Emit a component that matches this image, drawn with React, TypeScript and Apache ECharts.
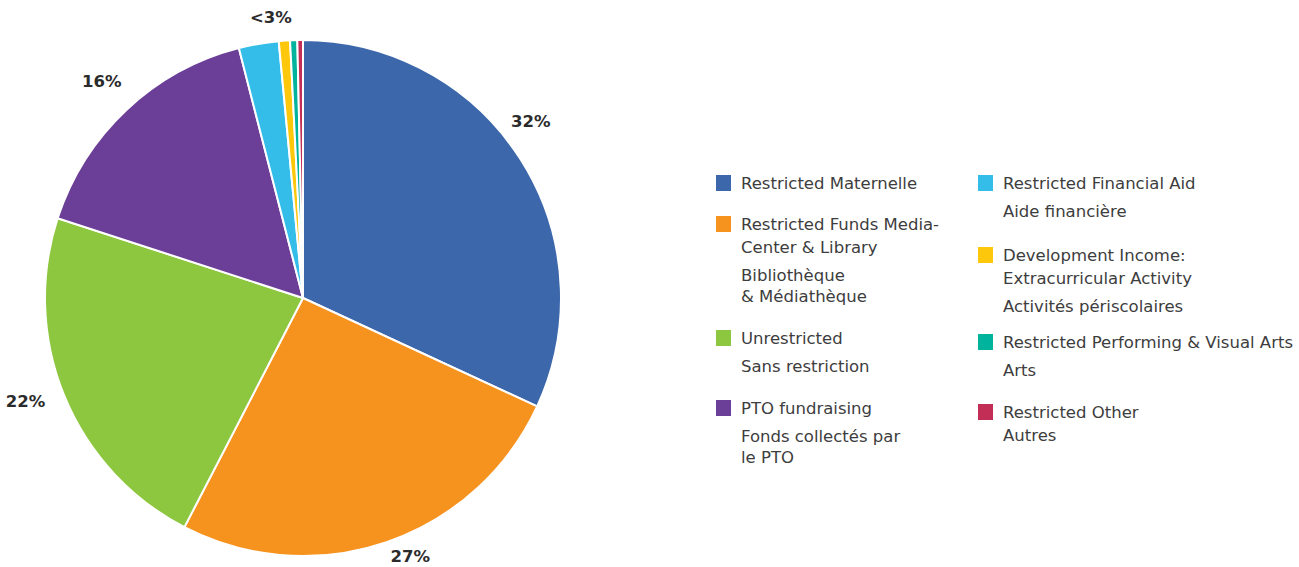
import React, { useEffect, useRef } from "react";
import * as echarts from "echarts";

// ---- data ----
const categories = [
  "Restricted Maternelle",
  "Restricted Funds Media-Center & Library",
  "Unrestricted",
  "PTO fundraising",
  "Restricted Financial Aid",
  "Development Income: Extracurricular Activity",
  "Restricted Performing & Visual Arts",
  "Restricted Other",
];
const englishLines = [
  ["Restricted Maternelle"],
  ["Restricted Funds Media-", "Center & Library"],
  ["Unrestricted"],
  ["PTO fundraising"],
  ["Restricted Financial Aid"],
  ["Development Income:", "Extracurricular Activity"],
  ["Restricted Performing & Visual Arts"],
  ["Restricted Other", "Autres"],
];
const frenchLines = [
  [],
  ["Bibliothèque", "& Médiathèque"],
  ["Sans restriction"],
  ["Fonds collectés par", "le PTO"],
  ["Aide financière"],
  ["Activités périscolaires"],
  ["Arts"],
  [],
];
const shares = [31.9, 25.7, 22.4, 16.0, 2.5, 0.7, 0.45, 0.35];
const sliceLabels = ["32%", "27%", "22%", "16%", "<3%"];
const labeledCount = 4; // slices labelled individually; the rest are grouped

// ---- styles / layout ----
const colors = [
  "#3c67ab",
  "#f6921e",
  "#8dc63f",
  "#6b3f98",
  "#35bde9",
  "#fdc70c",
  "#00b39d",
  "#c22e55",
];
const CENTER: [number, number] = [303, 298];
const RADIUS = 258;
const LABEL_OFFSETS = [
  [-15, -21],
  [14, -14],
  [-11, -6],
  [-4, -7],
  [4, 5],
];
const LEGEND_COL_X = [716, 978];
const LEGEND_ROW_Y = [
  [183, 224, 338, 408],
  [183, 255, 342, 412],
];
const TEXT_DX = 25;
const EN_LH = 23;
const FR_GAP = 28;
const FR_LH = 21;
const LEGEND_FONT = '16.5px "DejaVu Sans"';
const TEXT_COLOR = "#3d3d3d";

function buildLegend() {
  const els: any[] = [];
  categories.forEach((_, i) => {
    const col = i < 4 ? 0 : 1;
    const row = i % 4;
    const x = LEGEND_COL_X[col];
    const y = LEGEND_ROW_Y[col][row];
    els.push({
      type: "rect",
      shape: { x, y: y - 8, width: 15, height: 16 },
      style: { fill: colors[i] },
      silent: true,
    });
    els.push({
      type: "text",
      x: x + TEXT_DX,
      y: y - EN_LH / 2,
      style: {
        text: englishLines[i].join("\n"),
        font: LEGEND_FONT,
        fill: TEXT_COLOR,
        lineHeight: EN_LH,
        verticalAlign: "top",
        align: "left",
      },
      silent: true,
    });
    if (frenchLines[i].length) {
      const lastEn = y + (englishLines[i].length - 1) * EN_LH;
      els.push({
        type: "text",
        x: x + TEXT_DX,
        y: lastEn + FR_GAP - FR_LH / 2,
        style: {
          text: frenchLines[i].join("\n"),
          font: LEGEND_FONT,
          fill: TEXT_COLOR,
          lineHeight: FR_LH,
          verticalAlign: "top",
          align: "left",
        },
        silent: true,
      });
    }
  });
  return els;
}

export default function App() {
  const ref = useRef<HTMLDivElement>(null);
  useEffect(() => {
    if (!ref.current) return;
    const chart = echarts.init(ref.current, null, { renderer: "svg" });

    const mainData = categories.map((name, i) => ({
      name,
      value: shares[i],
      itemStyle: { color: colors[i] },
    }));
    const rest = shares.slice(labeledCount).reduce((a, b) => a + b, 0);
    const labelData = [
      ...shares.slice(0, labeledCount).map((v, i) => ({ name: sliceLabels[i], value: v })),
      { name: sliceLabels[labeledCount], value: rest },
    ];

    chart.setOption({
      animation: false,
      graphic: buildLegend(),
      series: [
        {
          type: "pie",
          center: CENTER,
          radius: RADIUS,
          startAngle: 90,
          clockwise: true,
          silent: true,
          data: mainData,
          label: { show: false },
          labelLine: { show: false },
          itemStyle: { borderColor: "#ffffff", borderWidth: 2 },
        },
        {
          type: "pie",
          center: CENTER,
          radius: [RADIUS + 12, RADIUS + 42],
          startAngle: 90,
          clockwise: true,
          silent: true,
          data: labelData,
          itemStyle: { color: "rgba(0,0,0,0)" },
          label: {
            show: true,
            position: "inside",
            formatter: "{b}",
            fontFamily: "DejaVu Sans",
            fontWeight: "bold",
            fontSize: 16.5,
            lineHeight: 18,
            color: "#2b2b2b",
          },
          labelLine: { show: false },
          labelLayout: (p: any) => ({
            dx: LABEL_OFFSETS[p.dataIndex][0],
            dy: LABEL_OFFSETS[p.dataIndex][1],
          }),
        },
      ],
    });
    return () => chart.dispose();
  }, []);
  return (
    <div
      ref={ref}
      style={{ position: "absolute", left: 0, top: 0, width: 1299, height: 567 }}
    />
  );
}
